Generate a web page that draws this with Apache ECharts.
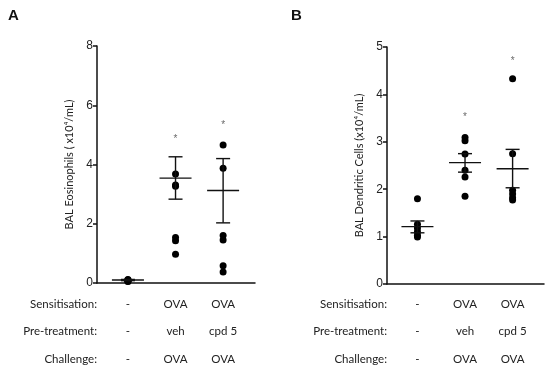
<!DOCTYPE html>
<html><head><meta charset="utf-8">
<script src="https://cdn.jsdelivr.net/npm/echarts@6/dist/echarts.min.js"></script>
<style>html,body{margin:0;padding:0;background:#fff}#c{width:550px;height:367px}</style>
</head><body><div id="c"></div>
<script>
// Group positions (1 = control, 2 = OVA/veh, 3 = OVA/cpd 5)
const groups = [1, 2, 3];
const rowHeaders = ['Sensitisation:', 'Pre-treatment:', 'Challenge:'];
const sensitisation = ['-', 'OVA', 'OVA'];
const pretreatment = ['-', 'veh', 'cpd 5'];
const challenge = ['-', 'OVA', 'OVA'];

// Panel A: BAL Eosinophils
const eosPoints = [
  [0.05, 0.08, 0.1, 0.12, 0.06, 0.09],
  [3.68, 3.31, 3.27, 1.54, 1.43, 0.97],
  [4.66, 3.87, 1.6, 1.45, 0.58, 0.37]
];
const eosMean = [0.1, 3.54, 3.12];
const eosLow = [0.08, 2.83, 2.03];
const eosHigh = [0.12, 4.26, 4.2];
const eosStar = [null, 4.86, 5.34];

// Panel B: BAL Dendritic Cells
const dcPoints = [
  [1.8, 1.26, 1.18, 1.1, 1.03, 0.99],
  [3.09, 3.02, 2.74, 2.4, 2.26, 1.85],
  [4.33, 2.75, 1.98, 1.9, 1.82, 1.77]
];
const dcMean = [1.21, 2.56, 2.43];
const dcLow = [1.08, 2.36, 2.03];
const dcHigh = [1.33, 2.75, 2.84];
const dcStar = [null, 3.52, 4.70];

const chart = echarts.init(document.getElementById('c'));
const labelFont = 'Lato';

function scatterData(points) {
  const out = [];
  points.forEach((arr, i) => arr.forEach(v => out.push([groups[i], v])));
  return out;
}
function errData(mean, lo, hi) {
  return groups.map((g, i) => [g, mean[i], lo[i], hi[i]]);
}
function starData(star) {
  const out = [];
  star.forEach((v, i) => { if (v != null) out.push([groups[i], v]); });
  return out;
}
function renderErr(params, api) {
  const x = api.value(0), m = api.value(1), lo = api.value(2), hi = api.value(3);
  const pm = api.coord([x, m]), pl = api.coord([x, lo]), ph = api.coord([x, hi]);
  const st = { stroke: '#111', lineWidth: 1.4 };
  return { type: 'group', children: [
    { type: 'line', shape: { x1: pm[0] - 16, y1: pm[1], x2: pm[0] + 16, y2: pm[1] }, style: st },
    { type: 'line', shape: { x1: pl[0], y1: pl[1], x2: ph[0], y2: ph[1] }, style: st },
    { type: 'line', shape: { x1: pl[0] - 7, y1: pl[1], x2: pl[0] + 7, y2: pl[1] }, style: st },
    { type: 'line', shape: { x1: ph[0] - 7, y1: ph[1], x2: ph[0] + 7, y2: ph[1] }, style: st }
  ]};
}

function yAxis(gi, max, name) {
  return {
    type: 'value', gridIndex: gi, min: 0, max: max, interval: max === 8 ? 2 : 1,
    name: name, nameLocation: 'middle', nameGap: 22,
    nameTextStyle: { fontFamily: labelFont, fontSize: 11, color: '#222' },
    axisLine: { show: true, lineStyle: { color: '#111', width: 1.5 } },
    axisTick: { show: true, length: 4, lineStyle: { color: '#111', width: 1.5 } },
    axisLabel: { fontFamily: 'Liberation Sans', fontSize: 12, color: '#222', margin: 4 },
    splitLine: { show: false }
  };
}
function xAxis(gi, min, max) {
  return {
    type: 'value', gridIndex: gi, min: min, max: max,
    axisLine: { show: true, onZero: false, lineStyle: { color: '#111', width: 1.5 } },
    axisTick: { show: false }, axisLabel: { show: false }, splitLine: { show: false }
  };
}
function seriesFor(gi, pts, mean, lo, hi, star) {
  return [
    { type: 'scatter', xAxisIndex: gi, yAxisIndex: gi, data: scatterData(pts), symbolSize: 7,
      itemStyle: { color: '#000', opacity: 1 }, z: 3 },
    { type: 'custom', xAxisIndex: gi, yAxisIndex: gi, data: errData(mean, lo, hi),
      renderItem: renderErr, encode: { x: 0, y: [1, 2, 3] }, z: 4 },
    { type: 'scatter', xAxisIndex: gi, yAxisIndex: gi, data: starData(star), symbolSize: 1,
      itemStyle: { color: 'rgba(0,0,0,0)' },
      label: { show: true, position: 'inside', formatter: '*', fontSize: 10, color: '#444',
               fontFamily: 'Liberation Sans' } }
  ];
}

const option = {
  animation: false,
  backgroundColor: '#fff',
  grid: [
    { left: 97, top: 46, width: 158, height: 237 },
    { left: 387, top: 47, width: 157, height: 237 }
  ],
  xAxis: [xAxis(0, 0.35, 3.67), xAxis(1, 0.36, 3.66)],
  yAxis: [yAxis(0, 8, 'BAL Eosinophils ( x10⁴/mL)'), yAxis(1, 5, 'BAL Dendritic Cells (x10⁴/mL)')],
  series: [].concat(
    seriesFor(0, eosPoints, eosMean, eosLow, eosHigh, eosStar),
    seriesFor(1, dcPoints, dcMean, dcLow, dcHigh, dcStar)
  )
};
chart.setOption(option);

// Table under each panel and panel letters
const rows = [sensitisation, pretreatment, challenge];
const rowY = [304, 331.5, 359];
const graphics = [
  { type: 'text', left: 8, top: 8, style: { text: 'A', font: 'bold 15px "Liberation Sans"', fill: '#111' } },
  { type: 'text', left: 291, top: 8, style: { text: 'B', font: 'bold 15px "Liberation Sans"', fill: '#111' } }
];
[0, 1].forEach(gi => {
  const axisLeft = chart.convertToPixel({ gridIndex: gi }, [gi === 0 ? 0.35 : 0.36, 0])[0];
  rows.forEach((row, r) => {
    graphics.push({ type: 'text', x: axisLeft, y: rowY[r],
      style: { text: rowHeaders[r], font: '11.5px ' + labelFont, fill: '#222', align: 'right', verticalAlign: 'middle' } });
    row.forEach((t, i) => {
      const px = chart.convertToPixel({ gridIndex: gi }, [groups[i], 0])[0];
      graphics.push({ type: 'text', x: px, y: rowY[r],
        style: { text: t, font: '11.5px ' + labelFont, fill: '#222', align: 'center', verticalAlign: 'middle' } });
    });
  });
});
chart.setOption({ graphic: graphics });
</script></body></html>
